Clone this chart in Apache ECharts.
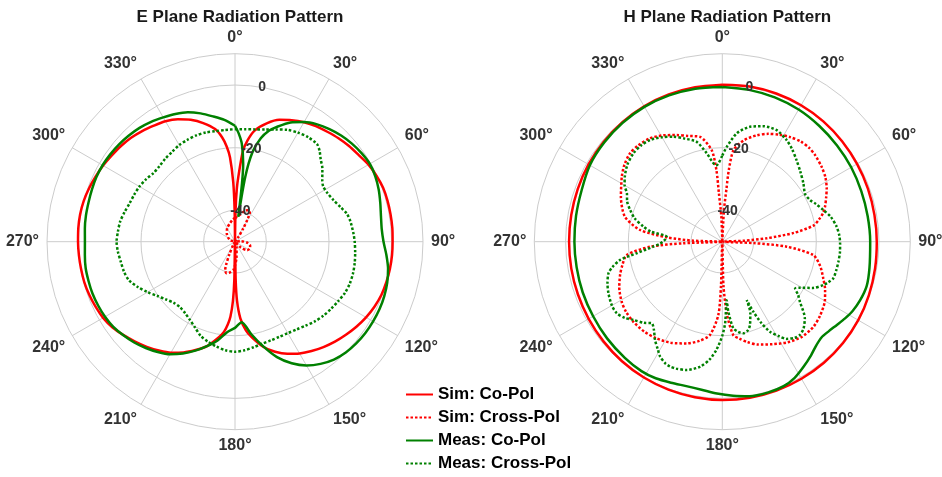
<!DOCTYPE html>
<html><head><meta charset="utf-8">
<script src="https://cdn.jsdelivr.net/npm/echarts@6/dist/echarts.min.js"></script>
<style>html,body{margin:0;padding:0;background:#fff}#c{width:942px;height:477px}</style>
</head><body><div id="c"></div>
<script>
const FONT = '"Liberation Sans", Arial, Helvetica, sans-serif';
const titles = ['E Plane Radiation Pattern', 'H Plane Radiation Pattern'];
const seriesNames = ['Sim: Co-Pol', 'Sim: Cross-Pol', 'Meas: Co-Pol', 'Meas: Cross-Pol'];
const radialTickLabels = [-40, -20, 0];

// ---------- E plane ----------
const eSimCoAng = [0,1,2,3,5,7,10,15,20,25,30,35,40,45,50,55,60,65,70,75,80,85,90,95,100,105,110,115,120,125,130,135,140,145,150,155,160,165,170,173,176,178,179,180,181,182,183.5,185,187,190,195,200,205,210,215,220,225,230,235,240,245,250,255,260,265,270,275,280,285,290,295,300,305,310,315,320,325,330,335,340,345,350,353,355,356.6,358.3,359.3,360];
const eSimCoDb  = [-50,-40,-33,-29,-21,-17.5,-14,-10.9,-8.6,-7.2,-6.0,-5.0,-4.2,-3.3,-2.5,-1.8,-0.8,-0.2,0.3,0.4,0.4,0.4,0.3,0.3,0.2,0.0,-0.3,-0.9,-1.7,-2.7,-3.8,-4.9,-6.1,-7.4,-8.8,-10.5,-12.6,-15.3,-19,-21.5,-25.5,-31,-38,-50,-38,-31,-26,-23.5,-21,-18.8,-15.5,-13.2,-11,-9.1,-7.6,-6.2,-4.9,-3.6,-2.3,-1.4,-0.9,-0.5,-0.2,-0.1,0.0,0.1,0.2,0.2,0.0,-0.4,-0.9,-1.4,-2.0,-2.5,-3.1,-3.9,-4.8,-5.6,-6.9,-8.6,-10.8,-13.5,-16.5,-19.5,-23,-31,-40,-50];

const eSimXAng = [0,10,17,23,27,29,32,37,45,70,85,95,105,115,125,135,150,165,175,183,190,195,199,201,204,210,220,265,285,300,315,330,345,355,360];
const eSimXDb  = [-42.5,-41.3,-39.8,-39.0,-39.6,-41.5,-45,-48.5,-50,-50,-48,-46,-45,-44.8,-45.3,-47.5,-50,-48,-44.7,-41,-40,-39.6,-40.3,-42,-45.5,-49,-50,-50,-48.5,-47.5,-46.3,-45,-43.9,-42.8,-42.5];

const eMeasCoAng = [0,2,4,6,7.5,9,11,14,17,20,25,30,35,40,45,50,55,60,65,70,75,80,85,90,95,100,105,110,115,120,125,130,135,140,145,150,155,160,165,170,175.3,180,185,190,195,200,205,210,215,220,225,230,235,240,245,250,255,260,265,270,275,280,285,290,295,300,305,310,315,320,325,330,335,340,345,350,355,360];
const eMeasCoDb  = [-13,-15.5,-18.7,-25,-42,-29,-21,-16,-13,-11,-8,-5.9,-4.3,-3.1,-2.1,-1.3,-0.7,-0.3,-0.6,-1.2,-2.0,-2.7,-3.0,-2.6,-1.5,-0.4,0.3,0.7,0.9,0.9,0.8,0.5,0.0,-0.9,-2.4,-4.4,-7.2,-10.8,-15.5,-20,-24.2,-22.5,-21,-18,-15.5,-13,-10.6,-8.5,-7.0,-5.7,-4.5,-3.5,-2.6,-2.1,-1.8,-1.6,-1.6,-1.6,-1.9,-2.1,-1.9,-1.7,-1.6,-1.4,-1.2,-1.2,-1.4,-1.7,-2.1,-2.6,-3.3,-4.2,-5.0,-6.0,-7.6,-9.4,-11,-13];

const eMeasXAng = [0,5,10,15,20,25,30,35,40,43,46,50,55,58,62,67,72,76,80,86,90,95,100,105,110,115,120,125,130,135,140,145,150,155,160,165,170,175,180,185,190,195,200,205,210,215,220,225,230,235,240,245,250,255,260,265,270,275,280,285,290,295,300,305,310,315,320,325,330,335,340,345,350,355,360];
const eMeasXDb  = [-14.1,-14.0,-13.6,-12.9,-11.9,-10.6,-9.8,-9.3,-9.3,-10.4,-12.0,-13.6,-16.0,-16.8,-16.7,-15.9,-14.5,-13.2,-12.6,-12.1,-11.8,-11.5,-11.2,-11.0,-11.0,-11.3,-12.0,-12.6,-13.2,-14.0,-15.0,-15.8,-16.3,-16.5,-16.5,-16.3,-15.8,-15.2,-14.9,-15.2,-16.0,-16.9,-18.0,-19.8,-21.2,-22.2,-22.7,-22.4,-21.3,-19.8,-17.8,-15.8,-14.0,-13.3,-13.0,-12.5,-12.2,-12.5,-12.8,-13.5,-14.2,-14.5,-14.8,-15.3,-16.0,-15.9,-15.4,-15.0,-14.4,-14.1,-13.9,-13.9,-14.2,-14.2,-14.1];

// ---------- H plane ----------
const hSimCoAng = [0,10,20,30,40,50,60,70,80,90,100,110,120,130,140,150,160,170,180,190,200,210,220,230,240,250,260,270,280,290,300,310,320,330,340,350,360];
const hSimCoDb  = [0.1,0.3,0.35,0.3,0.15,-0.1,-0.35,-0.55,-0.7,-0.7,-0.5,-0.2,0.1,0.3,0.45,0.5,0.55,0.55,0.5,0.4,0.25,0.05,-0.2,-0.5,-0.75,-0.95,-1.05,-1.1,-1.05,-0.9,-0.7,-0.5,-0.3,-0.1,0.0,0.05,0.1];

const hSimXAng = [0,3,4.5,5.2,7,12,18,23,28,33,38,43,47,53,58,63,67,71,74,77,80,83,85.6,87.5,90,92.5,94.4,98.3,104,110,115,120,127,133,140,147,154,161,166,170,173.3,176.3,178.5,180,181.7,183.1,187.5,193,199.3,207,214.2,221,228,234,239.2,246,252,257,262.1,266,267.7,270,272,274.5,278.1,284.4,293.9,302.9,308,313.8,319,325,331,336.9,342,348,353.4,355.3,356,357.8,360];
const hSimXDb  = [-50,-40,-33,-27,-20.5,-16.9,-14.3,-12.6,-11.3,-10.2,-9.4,-9.2,-9.5,-10.3,-11.2,-12.6,-14,-15.3,-16.5,-18.3,-20.5,-27,-35.8,-43,-50,-40,-29.4,-20.7,-17.8,-15.7,-13.8,-12.2,-10.9,-10.2,-10.4,-11.7,-13.6,-15.3,-17,-18.6,-20,-26.6,-36,-50,-36,-26.6,-20,-17.5,-15.6,-13.8,-12.7,-12,-11.8,-12,-12.6,-14,-15.7,-17.3,-19.2,-26.9,-37.6,-50,-40.7,-32.2,-23.5,-17.9,-14.6,-11.8,-10.3,-9.2,-9.2,-9.7,-11.2,-13,-14.5,-15.8,-20.6,-27,-34.6,-42,-50];

const hMeasCoAng = [0,10,20,30,40,50,60,70,80,90,100,107,113,118,122,126,130,134,138,142,147,152,157,163,170,176,182,188,194,200,206,212,220,230,240,250,260,270,280,290,300,310,320,330,340,350,360];
const hMeasCoDb  = [-0.6,-0.8,-1.0,-1.3,-1.8,-2.2,-2.5,-2.8,-2.9,-2.8,-2.3,-1.8,-2.2,-2.9,-3.8,-4.8,-5.6,-6.0,-5.3,-4.0,-2.4,-0.8,0.1,0.3,0.1,-0.7,-1.5,-2.3,-2.5,-2.1,-1.5,-1.3,-1.6,-2.0,-2.4,-2.6,-2.8,-2.8,-2.6,-2.2,-1.2,-0.8,-0.5,-0.3,-0.3,-0.4,-0.6];

const hMeasXAng = [0,2.7,7.6,13.5,19.5,26,32.3,37,42.3,48,54.2,60,64.6,68,72.6,77,82.5,87,91,95,100,104,108.2,111,113.2,117,120.6,122.7,125,127.7,132.8,137,140.2,143,146.5,149,152.1,154.5,156.1,157.3,158.5,161.6,164,167.1,170,172.8,175.1,175.7,178,180,183,186,190,195.5,200,202.7,205,208.4,211,214.4,218,220.9,224,228.7,232,235.9,240,245.6,250,254.5,257,259.9,262.3,265.9,268,270,273,275.1,278,280.8,285,289,293,296.8,300,303.7,309,314.8,320,324.6,330,335,340,345.6,350,354.6,355.8,360];
const hMeasXDb  = [-22.5,-19.7,-15.1,-12.3,-10.9,-10.4,-11.6,-13,-14.8,-16.5,-18.1,-19.5,-19,-17.8,-16.2,-14.5,-13.2,-12.6,-12.4,-12.3,-12.4,-12.5,-12.7,-13.8,-14.9,-17.5,-21.2,-22.4,-20.5,-18.7,-14.1,-12,-11.3,-11.6,-12.8,-14.8,-17.5,-21.5,-25.6,-29.8,-25.6,-22,-20.5,-20,-20.8,-22.2,-27.6,-31.3,-24,-20,-15.6,-12.3,-9.5,-7.5,-6.9,-6.8,-7.1,-8.3,-10,-12,-14.5,-15.6,-14,-12.2,-10.5,-9.3,-9.3,-10.1,-11,-12.3,-14,-16.9,-22.4,-27.9,-30,-31,-32,-32.2,-27,-24.4,-21,-18.9,-17,-15.9,-14,-12.6,-11,-10,-9.8,-10.2,-11.5,-13,-15,-17.1,-21.3,-25.4,-25.5,-22.5];

// ---------- build ----------
function pairs(ang, db) { return ang.map((a, i) => [Math.max(-50, db[i]), a]); }
const RED = '#ff0000', GREEN = '#008000';
const DOT = [2.5, 2];
const styles = [
  { color: RED, type: 'solid' },
  { color: RED, type: DOT },
  { color: GREEN, type: 'solid' },
  { color: GREEN, type: DOT }
];
const planes = [
  [[eSimCoAng, eSimCoDb], [eSimXAng, eSimXDb], [eMeasCoAng, eMeasCoDb], [eMeasXAng, eMeasXDb]],
  [[hSimCoAng, hSimCoDb], [hSimXAng, hSimXDb], [hMeasCoAng, hMeasCoDb], [hMeasXAng, hMeasXDb]]
];
const centers = [[235, 241.7], [722.3, 241.7]];
const R = 188;
const GRID = '#cccccc';

const polar = [], angleAxis = [], radiusAxis = [], series = [], title = [];
centers.forEach((c, p) => {
  polar.push({ center: c, radius: R });
  angleAxis.push({
    polarIndex: p, type: 'value', min: 0, max: 360, interval: 30, startAngle: 90, clockwise: true,
    axisLine: { show: true, lineStyle: { color: GRID, width: 1 } },
    axisTick: { show: false },
    axisLabel: { margin: 8, color: '#333', fontSize: 16, fontWeight: 'bold', fontFamily: FONT,
      formatter: v => (v >= 360 ? '' : v + '°') },
    splitLine: { show: true, lineStyle: { color: GRID, width: 1 } }
  });
  radiusAxis.push({
    polarIndex: p, type: 'value', min: -50, max: 10, interval: 10,
    axisLine: { show: false }, axisTick: { show: false }, axisLabel: { show: false },
    splitLine: { show: true, lineStyle: { color: ['rgba(0,0,0,0)', GRID], width: 1 } }
  });
  title.push({ text: titles[p], left: c[0], top: 4, textAlign: 'center',
    textStyle: { fontSize: 17, fontWeight: 'bold', color: '#1a1a1a', fontFamily: FONT } });
  planes[p].forEach((d, k) => {
    series.push({
      name: seriesNames[k], type: 'line', coordinateSystem: 'polar', polarIndex: p,
      data: pairs(d[0], d[1]), showSymbol: false, symbol: 'none', smooth: 0.25,
      lineStyle: { color: styles[k].color, width: 2.5, type: styles[k].type, cap: 'butt' },
      itemStyle: { color: styles[k].color }, z: 2 + k
    });
  });
});
// overlay polars only carrying the radial tick labels, rotated 10 deg clockwise
centers.forEach((c, p) => {
  const idx = polar.length;
  polar.push({ center: c, radius: R });
  angleAxis.push({ polarIndex: idx, type: 'value', min: 0, max: 360, startAngle: 80, clockwise: true,
    axisLine: { show: false }, axisTick: { show: false }, axisLabel: { show: false }, splitLine: { show: false } });
  radiusAxis.push({ polarIndex: idx, type: 'value', min: -50, max: 10, interval: 10, z: 10,
    axisLine: { show: false }, axisTick: { show: false }, splitLine: { show: false },
    axisLabel: { show: true, margin: 0, align: 'center', verticalAlign: 'middle', color: '#333',
      fontSize: 14, fontWeight: 'bold', fontFamily: FONT,
      formatter: v => (radialTickLabels.indexOf(v) >= 0 ? String(v) : '') } });
});

const chart = echarts.init(document.getElementById('c'), null, { renderer: 'canvas' });
chart.setOption({
  animation: false,
  backgroundColor: '#ffffff',
  title,
  legend: {
    data: seriesNames, orient: 'vertical', left: 405, top: 386, height: 100, padding: 0,
    itemWidth: 27, itemHeight: 14, itemGap: 6,
    itemStyle: { opacity: 0 },
    textStyle: { fontSize: 17, fontWeight: 'bold', color: '#000', fontFamily: FONT }
  },
  polar, angleAxis, radiusAxis, series
});
</script></body></html>
